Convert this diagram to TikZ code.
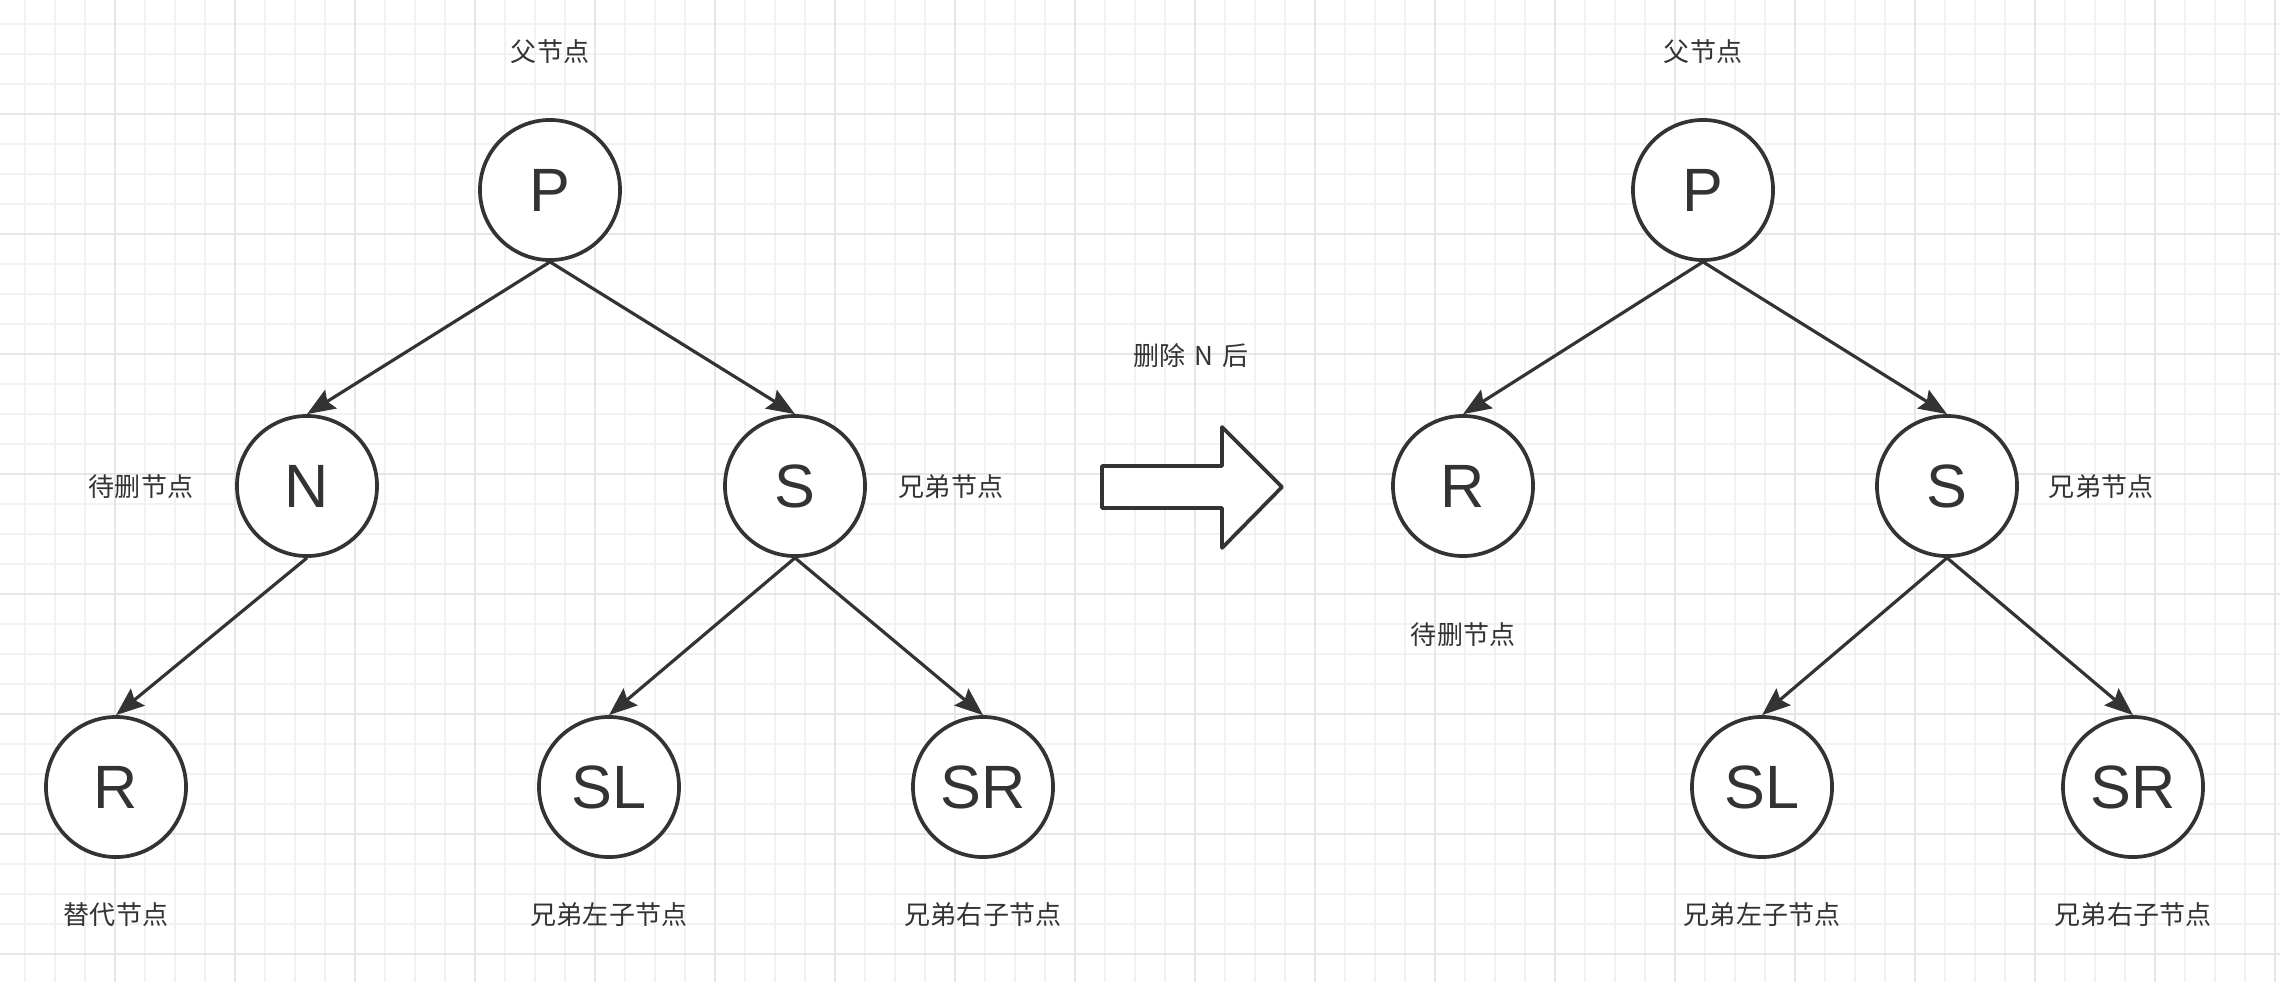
\documentclass[tikz,border=0pt]{standalone}
\usepackage{fontspec}
\setmainfont{Liberation Sans}
\newfontfamily\cjk{Noto Sans CJK SC}
\usetikzlibrary{arrows.meta}
\definecolor{ink}{HTML}{333333}
\definecolor{gridminor}{HTML}{F2F2F2}
\definecolor{gridmajor}{HTML}{E6E6E6}

\begin{document}
\begin{tikzpicture}[x=0.01cm, y=-0.01cm,
  tnode/.style={circle, draw=ink, line width=1.05pt, fill=white, minimum size=1.4cm, inner sep=0pt, text=ink, font=\fontsize{17.4pt}{20pt}\selectfont},
  lbl/.style={text=ink, inner sep=0pt, font=\cjk\fontsize{7.4pt}{9pt}\selectfont},
  link/.style={draw=ink, line width=0.9pt, -{Stealth[length=8pt, width=6.2pt, inset=1.2pt]}}]
  \useasboundingbox (0,0) rectangle (2280,982);
  \fill[white] (0,0) rectangle (2280,982);

  % grid
  \foreach \x in {25,55,...,2275} \draw[gridminor, line width=0.5pt] (\x,0) -- (\x,982);
  \foreach \y in {24,54,...,980} \draw[gridminor, line width=0.5pt] (0,\y) -- (2280,\y);
  \foreach \x in {115,235,...,2275} \draw[gridmajor, line width=0.6pt] (\x,0) -- (\x,982);
  \foreach \y in {114,234,...,980} \draw[gridmajor, line width=0.6pt] (0,\y) -- (2280,\y);

  % przed usunieciem
  \node [tnode] (p1) at (550,190) {P};
  \node [tnode] (n1) at (307,486) {N};
  \node [tnode] (s1) at (795,486) {S};
  \node [tnode] (r1) at (116,787) {R};
  \node [tnode] (sl1) at (609,787) {SL};
  \node [tnode] (sr1) at (983,787) {SR};

  \draw [link] (p1.south) -- (n1.north);
  \draw [link] (p1.south) -- (s1.north);
  \draw [link] (n1.south) -- (r1.north);
  \draw [link] (s1.south) -- (sl1.north);
  \draw [link] (s1.south) -- (sr1.north);

  \node [lbl] (lp1) at (550,52) {父节点};
  \node [lbl] (ln1) at (141,487) {待删节点};
  \node [lbl] (ls1) at (951,487) {兄弟节点};
  \node [lbl] (lr1) at (116,915) {替代节点};
  \node [lbl] (lsl1) at (609,915) {兄弟左子节点};
  \node [lbl] (lsr1) at (983,915) {兄弟右子节点};

  % strzalka
  \draw [ink, line width=1.05pt, fill=white, line join=round]
    (1102,466) -- (1222,466) -- (1222,427) -- (1282,487) -- (1222,548) -- (1222,508) -- (1102,508) -- cycle;
  \node [lbl] (step) at (1191,356) {删除\hspace{0.35em}N\hspace{0.35em}后};

  % po usunieciu
  \node [tnode] (p2) at (1703,190) {P};
  \node [tnode] (r2) at (1463,486) {R};
  \node [tnode] (s2) at (1947,486) {S};
  \node [tnode] (sl2) at (1762,787) {SL};
  \node [tnode] (sr2) at (2133,787) {SR};

  \draw [link] (p2.south) -- (r2.north);
  \draw [link] (p2.south) -- (s2.north);
  \draw [link] (s2.south) -- (sl2.north);
  \draw [link] (s2.south) -- (sr2.north);

  \node [lbl] (lp2) at (1703,52) {父节点};
  \node [lbl] (ls2) at (2101,487) {兄弟节点};
  \node [lbl] (lr2) at (1463,635) {待删节点};
  \node [lbl] (lsl2) at (1762,915) {兄弟左子节点};
  \node [lbl] (lsr2) at (2133,915) {兄弟右子节点};
\end{tikzpicture}
\end{document}
